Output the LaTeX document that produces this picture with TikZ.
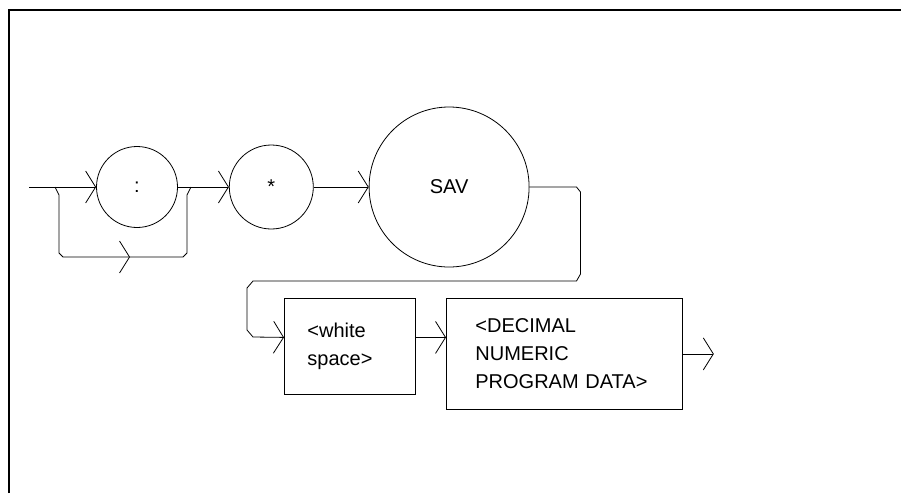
\documentclass[tikz,border=0pt]{standalone}
\usepackage{fontspec}
\setmainfont{Liberation Sans}
\usetikzlibrary{arrows.meta,positioning}

\begin{document}
\begin{tikzpicture}[
  x=1pt, y=-1pt,
  line width=0.8pt,
  token/.style={draw, circle, inner sep=0pt, font=\fontsize{20}{28}\selectfont},
  box/.style={draw, rectangle, align=left, anchor=north west, font=\fontsize{20}{28}\selectfont},
  >={Straight Barb[length=10pt, width=32pt]}
]
\useasboundingbox (0,0) rectangle (901,493);
\draw[line width=1.8pt] (9,493) -- (9,10) -- (901,10);
\node[token, minimum size=81pt] (colon) at (137,187) {:};
\node[token, minimum size=84pt, right=51pt of colon] (star) {*};
\node[token, minimum size=160pt, right=55pt of star] (sav) {SAV};
\node[box, minimum width=131pt, minimum height=96pt, text width=85pt, inner xsep=23pt] (ws) at (284,298) {<white\\space>};
\node[box, minimum width=236pt, minimum height=111pt, text width=178pt, inner xsep=29pt] (dec) at (446,298) {<DECIMAL\\NUMERIC\\PROGRAM DATA>};
\coordinate (start) at (29,187);
\coordinate (split) at (55,187);
\coordinate (skip) at (130,257);
\coordinate (join) at (191,187);
\coordinate (wsin) at ([yshift=9pt]ws.west);
\coordinate (end) at ([xshift=31pt]dec.east);
\draw[->] (start) -- (colon);
\draw[->] (split) -- ++(4,8) -- ++(0,58) -- ++(4,4) -- (skip);
\draw (skip) -- (183,257) -- ++(4,-4) -- ++(0,-58) -- (join);
\draw[->] (colon) -- (star);
\draw[->] (star) -- (sav);
\draw[->] (sav.east) -- ++(47,0) -- ++(4,5) -- ++(0,82) -- ++(-4,7)
  -- (253,281) -- ++(-6,7) -- ++(0,42) -- ++(6,7) -- (wsin);
\draw[->] (wsin -| ws.east) -- (wsin -| dec.west);
\draw[->] (dec) -- (end);
\end{tikzpicture}
\end{document}
